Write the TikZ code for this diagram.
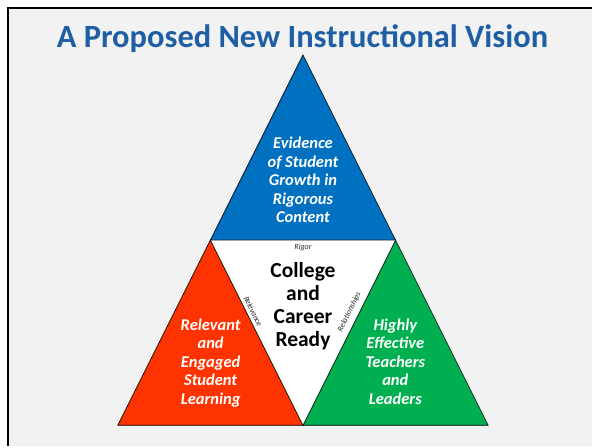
\documentclass[tikz,border=0pt]{standalone}
\usepackage{fontspec}
\setmainfont{Carlito}
\begin{document}
\begin{tikzpicture}[x=1pt,y=-1pt,
  panel/.style={draw=black,line width=0.6pt,line join=miter},
  sidetext/.style={text=white,font=\fontsize{16.5}{18.5}\selectfont\bfseries\itshape,align=center,inner sep=0pt},
  coretext/.style={text=black,font=\fontsize{21.5}{23}\selectfont\bfseries,align=center,inner sep=0pt},
  edgetext/.style={text=black!85,font=\fontsize{8}{8}\selectfont\itshape,inner sep=0pt}]
\definecolor{titleblue}{RGB}{30,94,164}
\definecolor{pblue}{RGB}{0,112,192}
\definecolor{pred}{RGB}{255,51,0}
\definecolor{pgreen}{RGB}{0,176,80}
\definecolor{slidegray}{RGB}{242,242,242}
% page and slide frame
\fill[white] (0,0) rectangle (593,447);
\fill[slidegray] (8,8) rectangle (593,447);
\draw[line width=2pt] (8,447) -- (8,8) -- (593,8);
% title
\node[text=titleblue,font=\fontsize{32.5}{36}\selectfont\bfseries,anchor=base] (title) at (303,48) {A Proposed New Instructional Vision};
% triangle corners
\coordinate (T) at (303.5,55);
\coordinate (BL) at (118,426);
\coordinate (BR) at (489,426);
\coordinate (ML) at (210.75,240.5);
\coordinate (MR) at (396.25,240.5);
\coordinate (MB) at (303.5,426);
% four triangles
\filldraw[panel,fill=pblue] (T) -- (MR) -- (ML) -- cycle;
\filldraw[panel,fill=pred] (ML) -- (MB) -- (BL) -- cycle;
\filldraw[panel,fill=pgreen] (MR) -- (BR) -- (MB) -- cycle;
\filldraw[panel,fill=white] (ML) -- (MR) -- (MB) -- cycle;
% texts (base anchor sits on the last line)
\node[sidetext,anchor=base] (growth) at (303.5,223) {Evidence\\of Student\\Growth in\\Rigorous\\Content};
\node[sidetext,anchor=base] (engaged) at (211,405) {Relevant\\and\\Engaged\\Student\\Learning};
\node[sidetext,anchor=base] (teachers) at (396,405) {Highly\\Effective\\Teachers\\and\\Leaders};
\node[coretext,anchor=base] (ready) at (303.5,347) {College\\and\\Career\\Ready};
\node[edgetext] (rigor) at (303.5,248) {Rigor};
\node[edgetext,rotate=-63.6] (relevance) at (253.5,312) {Relevance};
\node[edgetext,rotate=63.6] (relationships) at (350,312.5) {Relationships};
\end{tikzpicture}
\end{document}
